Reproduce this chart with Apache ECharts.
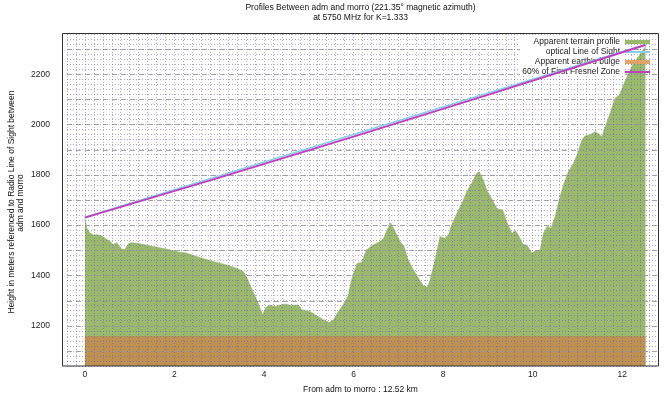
<!DOCTYPE html>
<html><head><meta charset="utf-8">
<script src="https://cdn.jsdelivr.net/npm/echarts@6/dist/echarts.min.js"></script>
<style>html,body{margin:0;padding:0;background:#fff}#c{width:665px;height:400px}</style>
</head><body><div id="c"></div>
<script>
const titleLines = ['Profiles Between adm and morro (221.35\u00b0 magnetic azimuth)', 'at 5750 MHz for K=1.333'];
const xAxisName = 'From adm to morro : 12.52 km';
const yAxisNameLines = ['Height in meters referenced to Radio Line of Sight between', 'adm and morro'];
const legendNames = ['Apparent terrain profile', 'optical Line of Sight', "Apparent earth's bulge", '60% of First Fresnel Zone'];
const xTickLabels = [0, 2, 4, 6, 8, 10, 12];
const yTickLabels = [1200, 1400, 1600, 1800, 2000, 2200];

const terrainKm = [0.00,0.04,0.11,0.19,0.26,0.37,0.48,0.57,0.63,0.71,0.82,0.89,0.97,1.04,1.23,1.53,1.83,2.12,2.27,2.50,2.87,3.17,3.39,3.54,3.61,3.72,3.84,3.97,4.04,4.13,4.25,4.36,4.47,4.58,4.77,4.84,5.03,5.18,5.33,5.46,5.55,5.66,5.77,5.88,5.95,6.03,6.08,6.18,6.29,6.44,6.59,6.67,6.74,6.83,6.93,7.04,7.13,7.22,7.34,7.45,7.56,7.65,7.71,7.82,7.93,8.04,8.12,8.19,8.31,8.42,8.53,8.64,8.75,8.81,8.90,8.98,9.12,9.21,9.33,9.42,9.54,9.61,9.68,9.79,9.87,9.98,10.06,10.17,10.24,10.33,10.41,10.50,10.61,10.70,10.80,10.91,10.99,11.10,11.17,11.28,11.40,11.47,11.55,11.62,11.73,11.84,11.94,12.03,12.14,12.25,12.36,12.44,12.52];
const terrainM = [1628,1590,1570,1561,1563,1558,1545,1535,1522,1531,1505,1503,1526,1531,1526,1515,1505,1492,1489,1475,1455,1442,1429,1416,1396,1350,1303,1244,1274,1283,1277,1283,1287,1282,1283,1264,1257,1240,1224,1213,1224,1257,1285,1320,1380,1425,1449,1452,1502,1522,1535,1548,1579,1610,1575,1535,1515,1462,1422,1390,1359,1354,1383,1462,1555,1548,1562,1601,1648,1688,1734,1767,1807,1812,1780,1738,1694,1664,1661,1614,1568,1579,1562,1522,1522,1489,1498,1502,1568,1597,1588,1634,1713,1767,1813,1846,1879,1939,1955,1959,1972,1963,1952,1992,2045,2105,2118,2158,2204,2244,2270,2290,2310];
const bulgeKm = [0, 6.26, 12.52];
const bulgeM = [1157, 1158, 1157];
const losKm = [0, 12.52];
const losM = [1631, 2318];
const fresnelKm = [0, 3, 6, 9, 12.52];
const fresnelM = [1630, 1789, 1952, 2118, 2316];

const zip = (a, b) => a.map((v, i) => [v, b[i]]);
const FONT = 'Liberation Sans';
const GREEN = '#9bb96c', ORANGE = '#be9150', ORANGE_KEY = '#e0a468', CYAN = '#87cfe6', MAGENTA = '#bf3fbf';
const dotted = {color: 'rgba(105,95,190,0.55)', width: 1, type: [1, 2]};

function pick(list, v) {
  for (const t of list) if (Math.abs(v - t) < 1e-6) return String(t);
  return '';
}

const chart = echarts.init(document.getElementById('c'), null, {renderer: 'canvas'});
chart.setOption({
  animation: false,
  backgroundColor: '#fff',
  textStyle: {fontFamily: FONT},
  grid: [
    {left: 67, top: 34, width: 591, height: 332},
    {left: 67, top: 49.1, width: 591, height: 302}
  ],
  xAxis: [
    {type: 'value', gridIndex: 0, min: -0.4, max: 12.8, interval: 0.2, z: 3,
     axisLine: {show: false}, axisTick: {show: false},
     axisLabel: {margin: 4, fontSize: 8.5, color: '#222', fontFamily: FONT, formatter: v => pick(xTickLabels, v)},
     splitLine: {show: true, lineStyle: dotted}},
    {type: 'value', gridIndex: 1, min: 0, max: 1, show: false}
  ],
  yAxis: [
    {type: 'value', gridIndex: 0, min: 1040, max: 2360, interval: 20, z: 3,
     axisLine: {show: false}, axisTick: {show: false},
     axisLabel: {margin: 17, fontSize: 8.5, color: '#222', fontFamily: FONT, formatter: v => pick(yTickLabels, v)},
     splitLine: {show: true, lineStyle: dotted}},
    {type: 'value', gridIndex: 1, min: 1100, max: 2300, interval: 100, z: 3,
     axisLine: {show: false}, axisTick: {show: false}, axisLabel: {show: false},
     splitLine: {show: true, lineStyle: {color: 'rgba(150,150,150,0.85)', width: 1, type: [5, 4]}}}
  ],
  legend: {
    orient: 'vertical', right: 15, top: 37, padding: 0, itemGap: 0,
    itemWidth: 25, itemHeight: 4, align: 'right', selectedMode: false, z: 4,
    textStyle: {fontSize: 8.5, color: '#222', fontFamily: FONT, lineHeight: 10},
    data: [
      {name: legendNames[0], icon: 'rect', itemStyle: {color: GREEN}},
      {name: legendNames[1], icon: 'path://M0 0H25V2H0Z', itemStyle: {color: CYAN}},
      {name: legendNames[2], icon: 'rect', itemStyle: {color: ORANGE_KEY}},
      {name: legendNames[3], icon: 'path://M0 0H25V2H0Z', itemStyle: {color: MAGENTA}}
    ]
  },
  graphic: [
    {type: 'rect', z: 3.5, silent: true, shape: {x: 520, y: 37, width: 103, height: 39}, style: {fill: '#fff'}},
    {type: 'rect', z: 10, silent: true, shape: {x: 62.5, y: 33.5, width: 596, height: 332.5}, style: {fill: 'none', stroke: '#333', lineWidth: 1}},
    {type: 'text', z: 10, x: 360.5, y: 7.3, style: {text: titleLines[0], align: 'center', verticalAlign: 'middle', font: '8.5px ' + FONT, fill: '#111'}},
    {type: 'text', z: 10, x: 360.5, y: 17.3, style: {text: titleLines[1], align: 'center', verticalAlign: 'middle', font: '8.5px ' + FONT, fill: '#111'}},
    {type: 'text', z: 10, x: 360.5, y: 389.3, style: {text: xAxisName, align: 'center', verticalAlign: 'middle', font: '8.5px ' + FONT, fill: '#111'}},
    {type: 'text', z: 10, x: 11.5, y: 202, rotation: Math.PI / 2, style: {text: yAxisNameLines[0], align: 'center', verticalAlign: 'middle', font: '8.5px ' + FONT, fill: '#111'}},
    {type: 'text', z: 10, x: 20.5, y: 203, rotation: Math.PI / 2, style: {text: yAxisNameLines[1], align: 'center', verticalAlign: 'middle', font: '8.5px ' + FONT, fill: '#111'}}
  ],
  series: [
    {name: legendNames[0], type: 'line', xAxisIndex: 0, yAxisIndex: 0, z: 2, symbol: 'none',
     data: zip(terrainKm, terrainM), itemStyle: {color: GREEN},
     lineStyle: {color: GREEN, width: 0.5}, areaStyle: {color: GREEN, opacity: 1, origin: 'start'}},
    {name: legendNames[1], type: 'line', xAxisIndex: 0, yAxisIndex: 0, z: 5, symbol: 'none',
     data: zip(losKm, losM), itemStyle: {color: CYAN}, lineStyle: {color: CYAN, width: 1.6}},
    {name: legendNames[2], type: 'line', xAxisIndex: 0, yAxisIndex: 0, z: 2, symbol: 'none',
     data: zip(bulgeKm, bulgeM), itemStyle: {color: ORANGE_KEY},
     lineStyle: {color: ORANGE, width: 0.5}, areaStyle: {color: ORANGE, opacity: 1, origin: 'start'}},
    {name: legendNames[3], type: 'line', xAxisIndex: 0, yAxisIndex: 0, z: 5, symbol: 'none',
     data: zip(fresnelKm, fresnelM), itemStyle: {color: MAGENTA}, lineStyle: {color: MAGENTA, width: 2}}
  ]
});
</script></body></html>
